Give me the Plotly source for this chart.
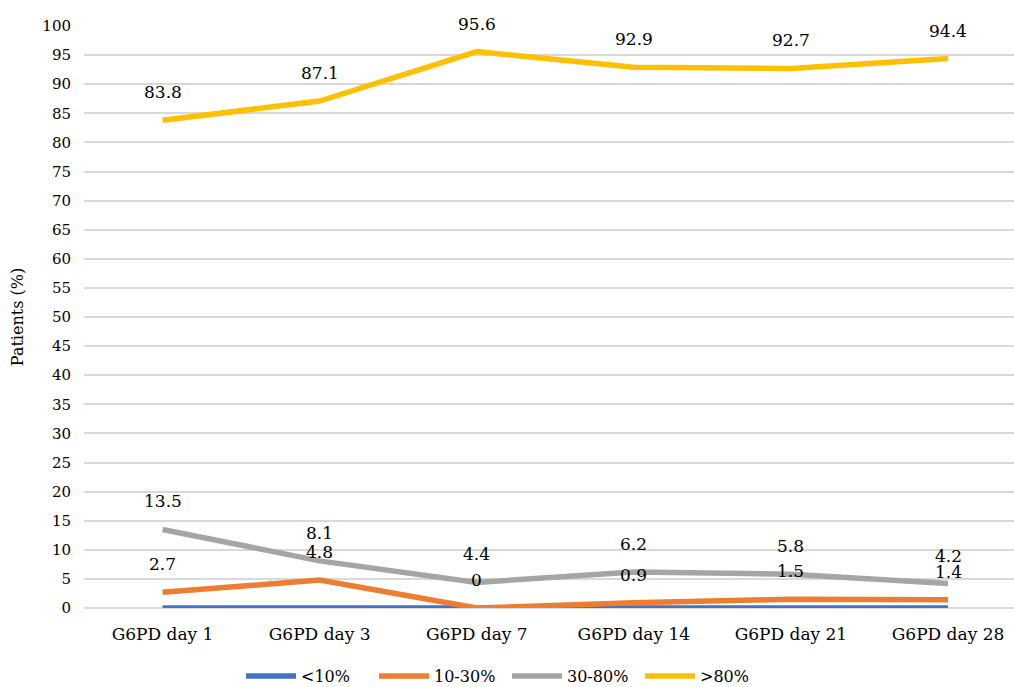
import plotly.graph_objects as go

categories = ["G6PD day 1", "G6PD day 3", "G6PD day 7", "G6PD day 14", "G6PD day 21", "G6PD day 28"]
series_names = ["<10%", "10-30%", "30-80%", ">80%"]
lt10 = [0, 0, 0, 0, 0, 0]
s10_30 = [2.7, 4.8, 0, 0.9, 1.5, 1.4]
s30_80 = [13.5, 8.1, 4.4, 6.2, 5.8, 4.2]
gt80 = [83.8, 87.1, 95.6, 92.9, 92.7, 94.4]
colors = ["#4472C4", "#ED7D31", "#A5A5A5", "#FFC000"]
y_ticks = list(range(0, 101, 5))

font_family = "DejaVu Serif"

fig = go.Figure()
all_series = [lt10, s10_30, s30_80, gt80]
for name, vals, col in zip(series_names, all_series, colors):
    fig.add_trace(go.Scatter(x=categories, y=vals, mode="lines", name=name,
                             line=dict(color=col, width=5.5)))

# data labels (not for <10%)
for vals in [s10_30, s30_80, gt80]:
    for c, v in zip(categories, vals):
        fig.add_annotation(x=c, y=v, text=f"{v:g}", showarrow=False, yshift=28,
                           font=dict(family=font_family, size=17, color="#000"))

fig.update_layout(
    width=1014, height=687,
    margin=dict(l=84, r=0, t=26, b=79),
    plot_bgcolor="white", paper_bgcolor="white",
    font=dict(family=font_family, size=16, color="#000"),
    showlegend=True,
    legend=dict(orientation="h", x=0.5, xanchor="center", xref="container",
                y=0.016, yanchor="middle", yref="container", entrywidth=68,
                font=dict(family=font_family, size=16), itemwidth=50),
    xaxis=dict(type="category", range=[-0.5, 5.42], showgrid=False, showline=False,
               ticks="", tickfont=dict(size=17), automargin=False, ticklabelstandoff=14),
    yaxis=dict(range=[0, 100], tickvals=y_ticks, showgrid=True, gridcolor="#D9D9D9",
               gridwidth=1.5, zeroline=True, zerolinecolor="#D9D9D9", zerolinewidth=1.5,
               ticks="", tickfont=dict(size=15), automargin=False, ticklabelstandoff=12,
               title=dict(text="Patients (%)", font=dict(size=16), standoff=14)),
)

fig.write_html("out.html", config={"displayModeBar": False},
               post_script="document.body.style.margin='0';document.body.style.overflow='hidden';")
